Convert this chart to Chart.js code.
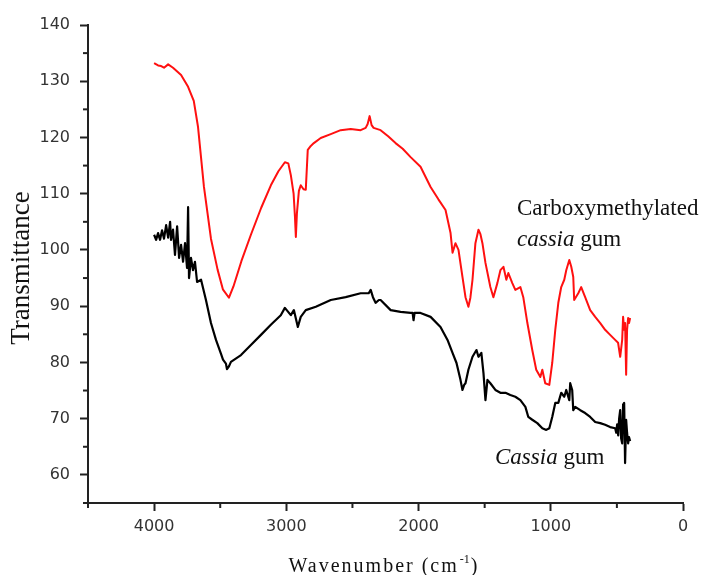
<!DOCTYPE html>
<html>
<head>
<meta charset="utf-8">
<script src="https://cdn.jsdelivr.net/npm/chart.js@4"></script>
<style>
  html, body { margin: 0; padding: 0; background: #fff; }
</style>
</head>
<body>
<canvas id="ftir" width="713" height="575"></canvas>
<script>
// Carboxymethylated cassia gum (red)
const cmgWavenumber = [4000, 3970, 3947, 3925, 3894, 3857, 3796, 3743, 3700, 3668, 3623, 3570, 3520, 3480,
  3434, 3400, 3340, 3268, 3190, 3117, 3060, 3011, 2985, 2966, 2945, 2935, 2928, 2920, 2905, 2891, 2870, 2853, 2838,
  2815, 2792, 2740, 2664, 2589, 2513, 2438, 2400, 2385, 2370, 2355, 2340, 2287, 2230, 2174, 2120, 2060,
  1985, 1909, 1850, 1796, 1758, 1743, 1730, 1721, 1698, 1668, 1645, 1623, 1608, 1592, 1570, 1547, 1532,
  1517, 1494, 1457, 1434, 1404, 1381, 1358, 1336, 1321, 1291, 1268, 1230, 1208, 1177, 1140, 1110, 1079,
  1064, 1042, 1011, 989, 966, 943, 921, 898, 883, 860, 845, 830, 823, 792, 770, 740, 702, 664, 626,
  589, 551, 513, 491, 475, 460, 453, 445, 438, 430, 423, 415, 408, 400];
const cmgTransmittance = [133.2, 132.8, 132.7, 132.4, 133.0, 132.4, 131.1, 129.0, 126.5, 121.9, 111.2, 102.0, 96.5, 93.0,
  91.5, 93.5, 98.0, 102.7, 107.5, 111.5, 114.0, 115.6, 115.4, 113.3, 110.0, 106.0, 102.3, 106.5, 110.5, 111.5, 110.8, 110.7, 117.8,
  118.5, 119.0, 119.9, 120.6, 121.3, 121.5, 121.3, 121.7, 122.4, 123.8, 122.2, 121.7, 121.3, 120.2, 119.0, 118.0, 116.5,
  114.8, 111.2, 109.0, 107.1, 103.0, 99.5, 100.5, 101.2, 100.0, 95.2, 91.6, 89.9, 91.5, 94.7, 101.2, 103.6, 102.8,
  101.2, 97.7, 93.4, 91.6, 94.1, 96.4, 97.0, 94.7, 95.9, 94.1, 92.9, 93.4, 91.6, 87.0, 82.2, 78.7, 77.4,
  78.7, 76.3, 76.0, 79.9, 85.8, 90.6, 93.4, 94.7, 96.4, 98.2, 97.0, 95.2, 91.1, 92.3, 93.4, 91.6, 89.3, 88.1, 87.0,
  85.8, 84.9, 84.0, 83.5, 81.0, 84.0, 88.1, 85.8, 87.0, 77.8, 85.8, 87.9, 87.0, 87.9];

// Cassia gum (black)
const cgWavenumber = [4000, 3985, 3970, 3955, 3940, 3925, 3909, 3894, 3879, 3872, 3857, 3842, 3826, 3811,
  3796, 3781, 3766, 3751, 3743, 3736, 3721, 3706, 3691, 3675, 3645, 3608, 3570, 3532, 3494, 3479, 3457,
  3449, 3434, 3419, 3343, 3268, 3192, 3117, 3042, 3011, 2966, 2943, 2913, 2891, 2853, 2777, 2664, 2551,
  2438, 2377, 2362, 2345, 2325, 2300, 2287, 2211, 2136, 2060, 2045, 2038, 2030, 1985, 1909, 1834, 1781,
  1743, 1713, 1683, 1668, 1655, 1645, 1623, 1592, 1562, 1547, 1525, 1509, 1494, 1479, 1457, 1419, 1381,
  1343, 1306, 1268, 1230, 1192, 1170, 1140, 1102, 1064, 1034, 1011, 989, 966, 943, 921, 898, 883, 860,
  853, 838, 830, 815, 777, 740, 702, 664, 626, 589, 551, 513, 505, 498, 490, 483, 475, 468, 460, 453,
  445, 438, 430, 423, 415, 408, 400];
const cgTransmittance = [102.7, 101.8, 103.0, 101.8, 103.5, 102.0, 104.4, 102.2, 105.0, 101.8, 103.6, 99.1, 104.2, 98.6,
  100.9, 97.9, 101.2, 96.8, 107.6, 95.0, 98.6, 96.4, 97.9, 94.3, 94.7, 91.1, 87.0, 84.0, 81.5, 80.5, 79.8,
  78.8, 79.3, 80.1, 81.3, 83.1, 84.9, 86.7, 88.4, 89.7, 88.4, 89.3, 86.3, 88.1, 89.3, 89.9, 91.1, 91.6,
  92.3, 92.3, 92.9, 91.6, 90.6, 91.1, 91.1, 89.3, 89.0, 88.8, 88.8, 87.5, 88.8, 88.8, 88.1, 86.3, 84.0,
  81.7, 79.9, 76.9, 75.1, 76.0, 76.3, 78.7, 81.0, 82.2, 81.0, 81.7, 78.1, 73.3, 76.9, 76.3, 75.1, 74.6,
  74.6, 74.2, 73.9, 73.3, 72.1, 70.3, 69.8, 69.2, 68.3, 68.0, 68.3, 70.3, 72.8, 72.8, 74.6, 73.9, 75.1, 73.3,
  76.3, 75.1, 71.5, 72.1, 71.5, 71.0, 70.3, 69.4, 69.2, 68.9, 68.5, 68.3, 67.5, 69.0, 67.0, 70.0, 71.5, 66.5, 65.6, 72.5,
  72.8, 62.1, 69.8, 67.5, 65.6, 66.7, 66.0];

const xTickValues = [4000, 3000, 2000, 1000, 0];
const yTickValues = [60, 70, 80, 90, 100, 110, 120, 130, 140];

const toPoints = (xs, ys) => xs.map((x, i) => ({ x, y: ys[i] }));

const axisColor = '#222';
const tickFont = { family: '"DejaVu Sans"', size: 16 };

// minor ticks, axis titles and curve labels
const extras = {
  id: 'extras',
  afterDraw(chart) {
    const { ctx, chartArea } = chart;
    const xs = chart.scales.x, ys = chart.scales.y;
    ctx.save();
    ctx.strokeStyle = axisColor;
    ctx.lineWidth = 2;
    for (let v = 500; v <= 4500; v += 1000) {
      const p = xs.getPixelForValue(v);
      ctx.beginPath(); ctx.moveTo(p, chartArea.bottom); ctx.lineTo(p, chartArea.bottom + 5); ctx.stroke();
    }
    for (let v = 55; v <= 135; v += 10) {
      const p = ys.getPixelForValue(v);
      ctx.beginPath(); ctx.moveTo(chartArea.left, p); ctx.lineTo(chartArea.left - 5, p); ctx.stroke();
    }

    ctx.fillStyle = '#111';
    ctx.textBaseline = 'alphabetic';

    // x title with superscript
    ctx.font = '20px "Liberation Serif"';
    ctx.letterSpacing = '2px';
    const main = 'Wavenumber (cm';
    const wMain = ctx.measureText(main).width;
    ctx.font = '12px "Liberation Serif"';
    ctx.letterSpacing = '0px';
    const wSup = ctx.measureText('-1').width;
    ctx.font = '20px "Liberation Serif"';
    const wEnd = ctx.measureText(')').width;
    let x0 = 383 - (wMain + wSup + wEnd + 2) / 2;
    ctx.letterSpacing = '2px';
    ctx.fillText(main, x0, 572);
    ctx.letterSpacing = '0px';
    ctx.font = '12px "Liberation Serif"';
    ctx.fillText('-1', x0 + wMain + 1, 563);
    ctx.font = '20px "Liberation Serif"';
    ctx.fillText(')', x0 + wMain + wSup + 2, 572);

    // y title
    ctx.save();
    ctx.translate(22, 268);
    ctx.rotate(-Math.PI / 2);
    ctx.font = '27px "Liberation Serif"';
    ctx.textAlign = 'center';
    ctx.textBaseline = 'middle';
    ctx.fillText('Transmittance', 0, 0);
    ctx.restore();

    // curve labels
    ctx.textAlign = 'left';
    ctx.font = '23px "Liberation Serif"';
    ctx.fillText('Carboxymethylated', 517, 215);
    ctx.font = 'italic 23px "Liberation Serif"';
    ctx.fillText('cassia', 517, 246);
    let w = ctx.measureText('cassia ').width;
    ctx.font = '23px "Liberation Serif"';
    ctx.fillText('gum', 517 + w, 246);
    ctx.font = 'italic 23px "Liberation Serif"';
    ctx.fillText('Cassia', 495, 464);
    w = ctx.measureText('Cassia ').width;
    ctx.font = '23px "Liberation Serif"';
    ctx.fillText('gum', 495 + w, 464);
    ctx.restore();
  }
};

new Chart(document.getElementById('ftir'), {
  type: 'line',
  data: {
    datasets: [
      {
        label: 'Carboxymethylated cassia gum',
        data: toPoints(cmgWavenumber, cmgTransmittance),
        borderColor: '#ff1010',
        borderWidth: 2,
        borderJoinStyle: 'round',
        pointRadius: 0,
        tension: 0
      },
      {
        label: 'Cassia gum',
        data: toPoints(cgWavenumber, cgTransmittance),
        borderColor: '#000',
        borderWidth: 2.2,
        borderJoinStyle: 'round',
        pointRadius: 0,
        tension: 0
      }
    ]
  },
  options: {
    responsive: false,
    animation: false,
    layout: { padding: { top: 25, right: 30, left: 0, bottom: 0 } },
    plugins: { legend: { display: false }, tooltip: { enabled: false } },
    scales: {
      x: {
        type: 'linear',
        reverse: true,
        min: 0,
        max: 4500,
        afterFit: s => { s.height = 72; },
        border: { color: axisColor, width: 2 },
        grid: {
          drawOnChartArea: false,
          tickLength: 8,
          tickWidth: 2,
          tickColor: c => xTickValues.includes(c.tick.value) ? axisColor : 'transparent'
        },
        ticks: {
          stepSize: 500,
          autoSkip: false,
          maxRotation: 0,
          padding: 6,
          color: '#333',
          font: tickFont,
          callback: v => xTickValues.includes(v) ? String(v) : ''
        }
      },
      y: {
        min: 55,
        max: 140,
        afterFit: s => { s.width = 88; },
        border: { color: axisColor, width: 2 },
        grid: {
          drawOnChartArea: false,
          tickLength: 8,
          tickWidth: 2,
          tickColor: c => yTickValues.includes(c.tick.value) ? axisColor : 'transparent'
        },
        ticks: {
          stepSize: 5,
          autoSkip: false,
          padding: 10,
          color: '#333',
          font: tickFont,
          callback: v => yTickValues.includes(v) ? String(v) : ''
        }
      }
    }
  },
  plugins: [extras]
});
</script>
</body>
</html>
